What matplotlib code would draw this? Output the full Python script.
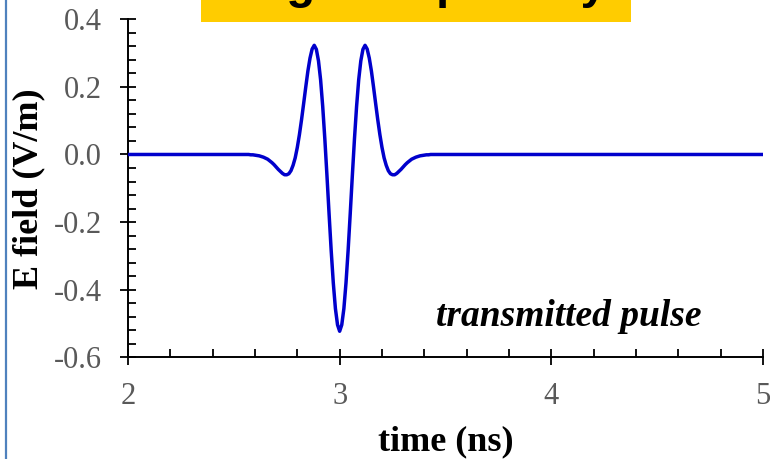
import numpy as np
import matplotlib
matplotlib.use("Agg")
import matplotlib.pyplot as plt
from matplotlib.patches import Rectangle
from matplotlib.ticker import MultipleLocator

# Transmitted pulse samples (time in ns, field in V/m)
pulse_start = 2.57
pulse_step = 0.01
efield_pulse = [
    0.000, -0.001, -0.001, -0.002, -0.003, -0.004, -0.006, -0.008, -0.011, -0.014,
    -0.019, -0.024, -0.030, -0.037, -0.044, -0.050, -0.056, -0.060, -0.060, -0.057,
    -0.048, -0.032, -0.010, 0.021, 0.059, 0.103, 0.151, 0.200, 0.247, 0.285,
    0.312, 0.323, 0.311, 0.277, 0.221, 0.142, 0.046, -0.062, -0.175, -0.284,
    -0.380, -0.456, -0.504, -0.523,
    -0.504, -0.456, -0.380, -0.284, -0.175, -0.062, 0.046, 0.142, 0.221, 0.277,
    0.311, 0.323, 0.312, 0.285, 0.247, 0.200, 0.151, 0.103, 0.059, 0.021,
    -0.010, -0.032, -0.048, -0.057, -0.060, -0.060, -0.056, -0.050, -0.044, -0.037,
    -0.030, -0.024, -0.019, -0.014, -0.011, -0.008, -0.006, -0.004, -0.003, -0.002,
    -0.001, -0.001, 0.000,
]
time_start, time_end = 2.0, 5.0
baseline_field = 0.0

x_ticks = [2, 3, 4, 5]
y_ticks = [-0.6, -0.4, -0.2, 0.0, 0.2, 0.4]
y_ticklabels = ["-0.6", "-0.4", "-0.2", "0.0", "0.2", "0.4"]

title_text = "Negative polarity"
note_text = "transmitted pulse"

pulse_times = np.round(pulse_start + pulse_step * np.arange(len(efield_pulse)), 2)
time_ns = np.concatenate([[time_start], pulse_times, [time_end]])
efield = np.concatenate([[baseline_field], efield_pulse, [baseline_field]])

serif = ["Liberation Serif", "DejaVu Serif"]

fig = plt.figure(figsize=(7.7, 4.59), dpi=100)
fig.patch.set_facecolor("white")
ax = fig.add_axes([0.1662, 0.2216, 0.8247, 0.7364])

ax.plot(time_ns, efield, color="#0000cc", lw=2.5, solid_capstyle="round",
        solid_joinstyle="round", zorder=3)

ax.set_xlim(2, 5)
ax.set_ylim(-0.6, 0.4)
ax.spines["top"].set_visible(False)
ax.spines["right"].set_visible(False)
for s in ("left", "bottom"):
    ax.spines[s].set_linewidth(1.4)
    ax.spines[s].set_color("black")

ax.set_xticks(x_ticks)
ax.set_xticklabels([str(v) for v in x_ticks])
ax.set_yticks(y_ticks)
ax.set_yticklabels(y_ticklabels)
ax.xaxis.set_minor_locator(MultipleLocator(0.2))
ax.yaxis.set_minor_locator(MultipleLocator(0.04))

ax.tick_params(which="major", direction="inout", length=12, width=1.3,
               color="black", labelsize=22, labelcolor="#595959")
ax.tick_params(which="minor", direction="in", length=5.5, width=1.3, color="black")
ax.tick_params(axis="x", which="major", pad=12)
ax.tick_params(axis="y", which="major", pad=13)
for lab in ax.get_xticklabels() + ax.get_yticklabels():
    lab.set_family(serif)

ax.set_xlabel("time (ns)", fontsize=26, fontweight="bold", family=serif)
ax.set_ylabel("E field (V/m)", fontsize=26, fontweight="bold", family=serif)
ax.xaxis.set_label_coords(0.5, -0.2)
ax.yaxis.set_label_coords(-0.13, 0.5)

ax.text(4.71, -0.507, note_text, fontsize=27, fontweight="bold", style="italic",
        family=serif, ha="right", va="baseline", color="black")

# Banner at the top of the figure
W, H = 770, 459
fig.patches.append(Rectangle((201 / W, 1 - 22 / H), 430 / W, 22 / H,
                             transform=fig.transFigure, facecolor="#ffcc00",
                             edgecolor="none", zorder=1))
fig.text(416 / W, 1 + 2 / H, title_text, fontsize=34, fontweight="bold",
         family=["Liberation Sans", "DejaVu Sans"], ha="center", va="baseline",
         color="black", zorder=2)

# Slide frame line on the left
fig.add_artist(plt.Line2D([6 / W, 6 / W], [0, 1], transform=fig.transFigure,
                          color="#4f81bd", lw=1.6))

fig.savefig("out.png", dpi=100, facecolor="white")
